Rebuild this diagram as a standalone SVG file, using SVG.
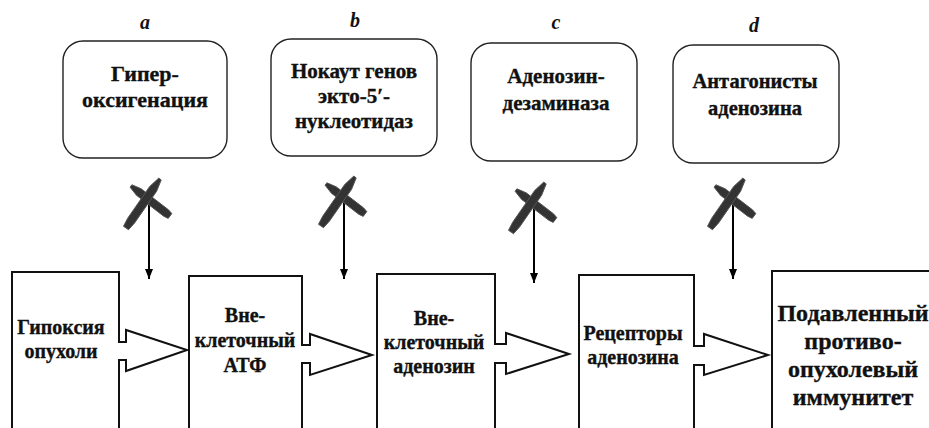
<svg xmlns="http://www.w3.org/2000/svg" xmlns:xlink="http://www.w3.org/1999/xlink" width="929" height="428" viewBox="0 0 929 428">
<style>
.t{font-family:"Liberation Serif","Times New Roman",serif;font-weight:bold;font-size:20px;fill:#111;stroke:#111;stroke-width:0.35;text-anchor:middle}
.big{font-size:24px}
.m{font-size:21px}
.l{font-size:22px}
.lab{font-family:"Liberation Serif","Times New Roman",serif;font-weight:bold;font-style:italic;font-size:20px;fill:#111;text-anchor:middle}
.rb{fill:#fff;stroke:#222;stroke-width:1.4}
.bx{fill:#fff;stroke:#111;stroke-width:2;stroke-linejoin:miter}
.ar{stroke:#000;stroke-width:2;fill:none}
.xm{fill:#333;stroke:#555;stroke-width:1;stroke-linejoin:round}
</style>
<defs>
<marker id="ah" viewBox="0 0 10 8" refX="10" refY="4" markerWidth="10" markerHeight="8" markerUnits="userSpaceOnUse" orient="auto">
<path d="M0,0 L10,4 L0,8 Z" fill="#000"/>
</marker>
<g id="cross">
<polygon class="xm" points="-15.1,-16.2 -5.8,-12.2 21.5,8.8 24.8,12.6 21.2,17.4 16.7,15.2 -10.6,-5.8 -16.9,-13.8"/>
<polygon class="xm" points="14.2,-21.1 9.65,-9.8 -12.45,22 -18.5,28.7 -23.5,25.3 -19.35,17.3 2.75,-14.6 11.8,-22.9"/>
</g>
</defs>
<rect width="929" height="428" fill="#fff"/>

<g id="node-a">
<text class="lab" x="145" y="29">a</text>
<rect class="rb" x="63" y="41" width="164" height="117" rx="20"/>
<text class="t l" x="145" y="81">Гипер-</text>
<text class="t l" x="145" y="107">оксигенация</text>
</g>
<g id="node-b">
<text class="lab" x="355" y="27">b</text>
<rect class="rb" x="271" y="39" width="166" height="117" rx="20"/>
<text class="t m" x="354" y="78">Нокаут генов</text>
<text class="t m" x="354" y="103">экто-5′-</text>
<text class="t m" x="354" y="128">нуклеотидаз</text>
</g>
<g id="node-c">
<text class="lab" x="556" y="29">c</text>
<rect class="rb" x="471" y="43" width="166" height="118" rx="20"/>
<text class="t m" x="556" y="83">Аденозин-</text>
<text class="t m" x="556" y="110">дезаминаза</text>
</g>
<g id="node-d">
<text class="lab" x="754" y="32">d</text>
<rect class="rb" x="673" y="45" width="166" height="118" rx="20"/>
<text class="t" x="755" y="88" style="font-size:20.5px">Антагонисты</text>
<text class="t" x="755" y="115" style="font-size:20.5px">аденозина</text>
</g>

<g id="node-1">
<path class="bx" d="M12,432 V272 H119 V342 H126 V330 L187,350 L126,371 V360 H119 V432"/>
<text class="t" x="61" y="334">Гипоксия</text>
<text class="t" x="61" y="358">опухоли</text>
</g>
<g id="node-2">
<path class="bx" d="M189,432 V276 H302 V345 H310 V334 L372,355 L310,375 V363 H302 V432"/>
<text class="t" x="245" y="322">Вне-</text>
<text class="t" x="245" y="347">клеточный</text>
<text class="t" x="245" y="372">АТФ</text>
</g>
<g id="node-3">
<path class="bx" d="M377,432 V274 H495 V344 H506 V333 L569,354 L506,374 V363 H495 V432"/>
<text class="t" x="434" y="325">Вне-</text>
<text class="t" x="434" y="349">клеточный</text>
<text class="t" x="434" y="373">аденозин</text>
</g>
<g id="node-4">
<path class="bx" d="M579,432 V275 H694 V346 H704 V334 L768,355 L704,375 V365 H694 V432"/>
<text class="t" x="633" y="340">Рецепторы</text>
<text class="t" x="633" y="364">аденозина</text>
</g>
<g id="node-5">
<path class="bx" d="M772,432 V271 H935"/>
<text class="t big" x="853" y="321">Подавленный</text>
<text class="t big" x="853" y="349">противо-</text>
<text class="t big" x="853" y="377">опухолевый</text>
<text class="t big" x="853" y="405">иммунитет</text>
</g>

<g id="connectors">
<line class="ar" x1="149" y1="199" x2="149" y2="279" marker-end="url(#ah)"/>
<line class="ar" x1="344" y1="198" x2="344" y2="279" marker-end="url(#ah)"/>
<line class="ar" x1="534" y1="202" x2="534" y2="283" marker-end="url(#ah)"/>
<line class="ar" x1="733" y1="198" x2="733" y2="279" marker-end="url(#ah)"/>
<use xlink:href="#cross" x="147" y="201"/>
<use xlink:href="#cross" x="342" y="199"/>
<use xlink:href="#cross" x="532" y="205"/>
<use xlink:href="#cross" x="731" y="201"/>
</g>
</svg>
